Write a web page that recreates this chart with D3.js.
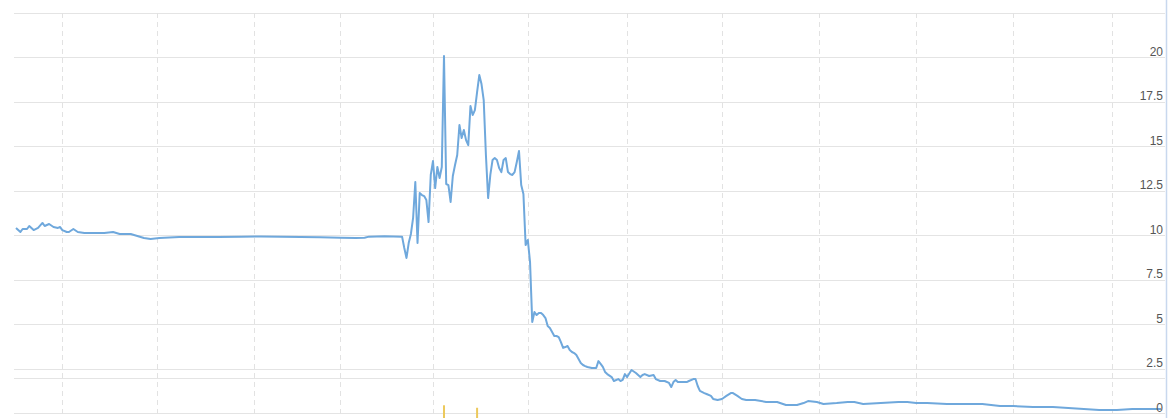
<!DOCTYPE html>
<html>
<head>
<meta charset="utf-8">
<script src="https://cdn.jsdelivr.net/npm/d3@7"></script>
<style>
  html, body { margin: 0; padding: 0; background: #fff; }
  svg { display: block; }
</style>
</head>
<body>
<svg id="chart" width="1168" height="418"></svg>
<script>
// ---- data ----
const tradeDays = [0,2,3,5,6,8,10,12,13,15,17,19,20,21,23,24,26,28,31,36,40,44,47,52,55,58,61,65,74,83,92,102,111,120,129,138,147,154,158,160,167,175,
  176,177,178,179,180,181,182,183,184,185,186,187,188,189,190,191,192,193,194,195,196,197,198,199,200,201,202,203,204,205,206,207,208,209,210,211,212,213,214,215,216,217,218,219,220,221,222,223,224,225,226,227,228,229,230,231,232,233,234,235,236,237,238,239,240,241,242,243,244,245,246,247,248,249,250,251,252,253,254,255,256,257,258,259,261,263,264,265,266,267,268,270,271,273,274,275,276,277,279,281,283,284,285,287,289,290,292,294,296,297,298,299,300,302,304,305,307,308,309,310,312,313,315,316,318,320,322,324,325,327,329,331,335,340,345,349,354,357,359,363,366,372,377,380,384,392,400,404,408,413,422,431,438,446,452,461,470,477,484,491,499,506,512,519];
const prices = [10.41,10.18,10.35,10.35,10.52,10.29,10.41,10.69,10.52,10.63,10.46,10.41,10.46,10.29,10.18,10.18,10.35,10.18,10.12,10.12,10.12,10.18,10.07,10.07,9.96,9.84,9.79,9.84,9.90,9.90,9.90,9.91,9.93,9.92,9.90,9.88,9.86,9.85,9.86,9.92,9.94,9.92,
  9.28,8.72,9.56,10.07,10.97,12.99,9.56,12.37,12.26,12.20,11.98,10.74,13.39,14.17,12.65,13.84,13.22,13.84,20.08,12.88,12.82,11.87,13.33,13.95,14.51,16.20,15.47,15.92,15.35,15.07,17.27,16.76,17.04,18.05,19.01,18.50,17.60,14.51,12.09,13.39,14.23,14.34,14.23,13.78,13.55,14.23,14.34,13.55,13.44,13.39,13.55,14.12,14.74,12.82,12.32,9.45,9.73,8.49,5.12,5.68,5.51,5.62,5.62,5.51,5.34,4.89,4.78,4.56,4.33,4.33,4.27,3.99,3.66,3.71,3.77,3.54,3.43,3.37,3.26,3.04,2.81,2.70,2.64,2.59,2.53,2.53,2.92,2.76,2.59,2.31,2.19,2.02,1.80,1.91,1.80,1.86,2.19,2.02,2.42,2.25,2.02,2.14,2.19,2.08,2.14,1.91,1.80,1.80,1.69,1.46,1.74,1.86,1.74,1.74,1.74,1.80,1.91,1.91,1.52,1.24,1.12,1.07,0.96,0.79,0.73,0.79,0.96,1.12,1.12,0.96,0.79,0.73,0.73,0.62,0.62,0.45,0.45,0.56,0.67,0.62,0.51,0.56,0.62,0.62,0.51,0.56,0.62,0.62,0.56,0.56,0.51,0.51,0.51,0.39,0.39,0.34,0.34,0.28,0.22,0.17,0.17,0.22,0.22,0.22];
const monthStartDays = [21,64,108,147,189,232,277,320,364,408,452,497];
const yTickValues = [0,2.5,5,7.5,10,12.5,15,17.5,20,22.5];
const yTickLabels = ["0","2.5","5","7.5","10","12.5","15","17.5","20",""];
const volumeDays = [194,209];
const volumes = [56,52];

// ---- layout ----
const svg = d3.select("#chart");
const plotLeft = 14, plotRight = 1165, plotTop = 13, plotBottom = 413;
const volTop = 378, volBase = 440;

const x = d3.scaleLinear().domain([0, 519]).range([16, 1161]);
const y = d3.scaleLinear().domain([0, 22.5]).range([plotBottom, plotTop]);
const yv = d3.scaleLinear().domain([0, 100]).range([volBase, volTop]);

// horizontal grid lines
svg.append("g").selectAll("line").data(yTickValues).join("line")
  .attr("x1", plotLeft).attr("x2", plotRight)
  .attr("y1", d => Math.round(y(d)) + 0.5).attr("y2", d => Math.round(y(d)) + 0.5)
  .attr("stroke", "#e4e4e4").attr("stroke-width", 1);

// volume panel top line
svg.append("line")
  .attr("x1", plotLeft).attr("x2", plotRight)
  .attr("y1", volTop + 0.5).attr("y2", volTop + 0.5)
  .attr("stroke", "#e4e4e4").attr("stroke-width", 1);

// vertical dashed grid lines
svg.append("g").selectAll("line").data(monthStartDays).join("line")
  .attr("x1", d => Math.round(x(d)) + 0.5).attr("x2", d => Math.round(x(d)) + 0.5)
  .attr("y1", plotTop).attr("y2", 418)
  .attr("stroke", "#e2e2e2").attr("stroke-width", 1)
  .attr("stroke-dasharray", "5,4");

// volume bars
svg.append("g").selectAll("rect").data(volumeDays).join("rect")
  .attr("x", d => x(d) - 1)
  .attr("width", 2)
  .attr("y", (d, i) => yv(volumes[i]))
  .attr("height", (d, i) => volBase - yv(volumes[i]))
  .attr("fill", "#ecc95c");

// price line
const pts = tradeDays.map((d, i) => [d, prices[i]]);
svg.append("path")
  .datum(pts)
  .attr("fill", "none")
  .attr("stroke", "#6fa8dc")
  .attr("stroke-width", 2)
  .attr("stroke-linejoin", "round")
  .attr("d", d3.line().x(d => x(d[0])).y(d => y(d[1])));

// right axis labels
const axis = d3.axisRight(y).tickValues(yTickValues).tickSize(0)
  .tickFormat((d, i) => yTickLabels[i]);
const ag = svg.append("g").attr("transform", `translate(1163,0)`).call(axis);
ag.select(".domain").remove();
ag.selectAll("text")
  .attr("x", 0).attr("dy", "-2px")
  .attr("text-anchor", "end")
  .attr("dominant-baseline", "auto")
  .attr("fill", "#555")
  .style("font-family", "Arial, 'Liberation Sans', sans-serif")
  .style("font-size", "12px");

// right border
svg.append("line")
  .attr("x1", 1166.5).attr("x2", 1166.5).attr("y1", 0).attr("y2", 418)
  .attr("stroke", "#c8d8ee").attr("stroke-width", 1.5);
</script>
</body>
</html>
